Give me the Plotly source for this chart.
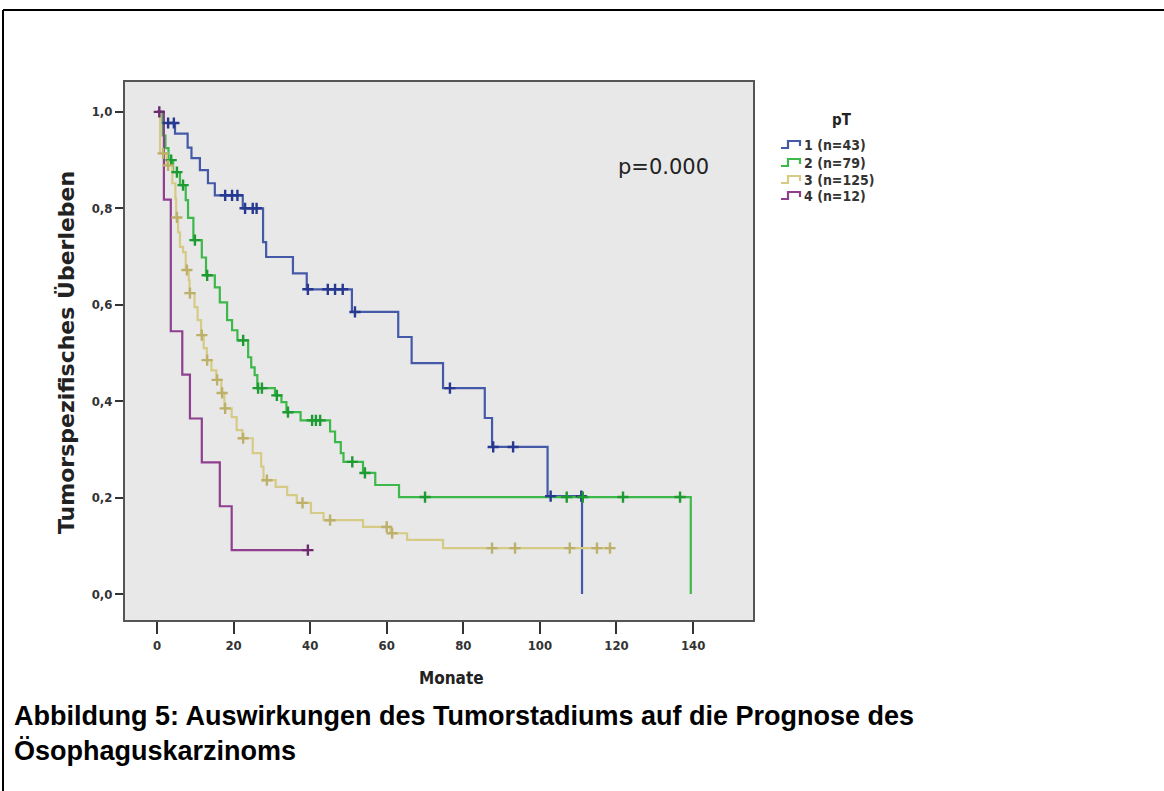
import plotly.graph_objects as go

# ---------------- data ----------------
x_ticks = [0, 20, 40, 60, 80, 100, 120, 140]
y_ticks = [0.0, 0.2, 0.4, 0.6, 0.8, 1.0]
y_tick_labels = ["0,0", "0,2", "0,4", "0,6", "0,8", "1,0"]

series_names = ["1 (n=43)", "2 (n=79)", "3 (n=125)", "4 (n=12)"]

pt1_times = [0, 1.5, 4.7, 8.0, 9.0, 11.2, 13.3, 15.1, 22.4, 27.7, 28.5, 35.5, 39.1,
             50.9, 63.0, 66.5, 74.7, 85.6, 87.5, 102.0, 111.0]
pt1_surv = [1.0, 0.977, 0.955, 0.926, 0.904, 0.879, 0.852, 0.827, 0.800, 0.730, 0.699,
            0.665, 0.632, 0.585, 0.533, 0.479, 0.427, 0.365, 0.305, 0.203, 0.0]
pt1_censor = [2.9, 4.4, 17.8, 19.6, 21.0, 23.0, 25.0, 26.0, 39.4, 44.6, 46.5, 48.5,
              51.7, 76.5, 87.8, 93.0, 102.8, 110.8]
pt1_end = 111.0

pt2_times = [0, 1.5, 2.2, 3.0, 4.2, 6.0, 7.5, 8.1, 9.5, 11.7, 12.8, 15.1, 16.4, 18.3,
             19.6, 21.0, 23.8, 24.6, 25.5, 26.2, 30.8, 32.5, 33.8, 37.5, 45.2, 46.5,
             48.0, 48.7, 53.8, 57.0, 63.2, 139.4]
pt2_surv = [1.0, 0.951, 0.925, 0.900, 0.875, 0.848, 0.817, 0.780, 0.734, 0.698, 0.661,
            0.636, 0.605, 0.568, 0.547, 0.526, 0.491, 0.470, 0.454, 0.427, 0.412, 0.398,
            0.377, 0.360, 0.337, 0.315, 0.292, 0.274, 0.251, 0.226, 0.201, 0.0]
pt2_censor = [3.7, 5.2, 6.8, 9.9, 13.1, 22.5, 26.4, 27.4, 31.3, 34.2, 40.5, 41.5, 42.6,
              51.0, 54.3, 70.0, 107.0, 111.2, 121.7, 136.6]
pt2_end = 139.4

pt3_times = [0, 0.8, 2.5, 4.0, 4.8, 5.0, 5.5, 6.0, 6.8, 7.5, 8.3, 8.5, 9.8, 10.6, 11.5,
             12.2, 13.0, 14.2, 15.5, 16.8, 17.6, 19.5, 20.8, 22.3, 25.0, 27.2, 27.8,
             31.0, 34.0, 36.5, 40.2, 43.5, 53.8, 61.0, 65.3, 74.7]
pt3_surv = [1.0, 0.914, 0.889, 0.852, 0.820, 0.781, 0.750, 0.720, 0.709, 0.672, 0.651,
            0.624, 0.595, 0.568, 0.537, 0.510, 0.485, 0.464, 0.444, 0.417, 0.385, 0.367,
            0.340, 0.323, 0.292, 0.264, 0.236, 0.222, 0.205, 0.189, 0.168, 0.153, 0.139,
            0.126, 0.112, 0.095]
pt3_censor = [1.6, 2.9, 5.2, 7.8, 8.6, 11.7, 13.1, 15.7, 17.0, 17.8, 22.5, 28.7, 38.0,
              45.2, 60.0, 61.4, 87.5, 93.5, 107.8, 114.9, 118.3]
pt3_end = 118.6

pt4_times = [0, 1.8, 3.6, 6.6, 8.6, 11.7, 16.4, 19.5]
pt4_surv = [1.0, 0.818, 0.545, 0.455, 0.364, 0.273, 0.182, 0.091]
pt4_censor = [0.6, 39.4]
pt4_end = 39.4

p_text = "p=0.000"
legend_title = "pT"
x_title = "Monate"
y_title = "Tumorspezifisches Überleben"
caption = "Abbildung 5: Auswirkungen des Tumorstadiums auf die Prognose des<br>Ösophaguskarzinoms"

# ---------------- styling ----------------
W, H = 1164, 791
PL, PR, PT, PB = 125, 753, 82, 620  # plot area in pixels
line_colors = ["#4459A8", "#3DB84A", "#D6CB86", "#8E3F8E"]
mark_colors = ["#26388F", "#1E9A32", "#BDB06A", "#6E2A70"]
XR = [-8.36, 155.65]
YR = [-0.054, 1.062]
COND = "DejaVu Sans Condensed, DejaVu Sans, Arial"
TICK_FONT = dict(family=COND, size=13, color="#333333", weight="bold")


def px_to_paper_x(px):
    return (px - PL) / (PR - PL)


def py_to_paper_y(py):
    return 1 - (py - PT) / (PB - PT)


def surv_at(times, surv, t):
    v = surv[0]
    for ti, si in zip(times, surv):
        if ti <= t:
            v = si
    return v


fig = go.Figure()

series = [
    (pt1_times, pt1_surv, pt1_censor, pt1_end),
    (pt2_times, pt2_surv, pt2_censor, pt2_end),
    (pt3_times, pt3_surv, pt3_censor, pt3_end),
    (pt4_times, pt4_surv, pt4_censor, pt4_end),
]

for i, (t, s, c, end) in enumerate(series):
    xs = list(t)
    ys = list(s)
    if xs[-1] < end:
        xs.append(end)
        ys.append(ys[-1])
    fig.add_trace(go.Scatter(
        x=xs, y=ys, mode="lines", line=dict(color=line_colors[i], width=2.2, shape="hv"),
        name=series_names[i], showlegend=False))

for i, (t, s, c, end) in enumerate(series):
    cy = [surv_at(t, s, ct) for ct in c]
    fig.add_trace(go.Scatter(
        x=c, y=cy, mode="markers", showlegend=False, name=series_names[i],
        marker=dict(symbol="cross-thin", size=8, line=dict(width=2.4, color=mark_colors[i]),
                    color=mark_colors[i]),
        hoverinfo="skip"))

# outer figure frame (left and top black border)
x_left = px_to_paper_x(3)
y_top = py_to_paper_y(10)
fig.add_shape(type="line", xref="paper", yref="paper", x0=x_left, x1=x_left,
              y0=py_to_paper_y(H + 5), y1=y_top, line=dict(color="black", width=2))
fig.add_shape(type="line", xref="paper", yref="paper", x0=x_left, x1=px_to_paper_x(W + 5),
              y0=y_top, y1=y_top, line=dict(color="black", width=2))

# legend drawn by hand (step glyph + label), SPSS style
fig.add_annotation(x=px_to_paper_x(842), y=py_to_paper_y(120), xref="paper", yref="paper",
                   xanchor="center", yanchor="middle", text=legend_title, showarrow=False,
                   font=dict(family=COND, size=15, color="#222222", weight="bold"))
leg_y = [145, 163, 180, 196]
gx0, gx1 = 781, 800
for i, name in enumerate(series_names):
    yc = leg_y[i]
    pts = [(gx0, yc + 3), (gx0 + 7, yc + 3), (gx0 + 7, yc - 4), (gx1, yc - 4), (gx1, yc + 1)]
    path = "M " + " L ".join(f"{px_to_paper_x(a):.5f},{py_to_paper_y(b):.5f}" for a, b in pts)
    fig.add_shape(type="path", xref="paper", yref="paper", path=path,
                  line=dict(color=line_colors[i], width=2.2))
    fig.add_annotation(x=px_to_paper_x(802), y=py_to_paper_y(yc), xref="paper", yref="paper",
                       xanchor="left", yanchor="middle", text=name, showarrow=False,
                       font=dict(family=COND, size=14, color="#333333", weight="bold"))

# p-value annotation
fig.add_annotation(x=px_to_paper_x(663), y=py_to_paper_y(167), xref="paper", yref="paper",
                   xanchor="center", yanchor="middle", text=p_text, showarrow=False,
                   font=dict(family="DejaVu Sans, Arial", size=21, color="#222222"))

# axis titles
fig.add_annotation(x=px_to_paper_x(451), y=py_to_paper_y(678), xref="paper", yref="paper",
                   xanchor="center", yanchor="middle", text=x_title, showarrow=False,
                   font=dict(family=COND, size=17, color="#222222", weight="bold"))
fig.add_annotation(x=px_to_paper_x(66), y=py_to_paper_y(353), xref="paper", yref="paper",
                   xanchor="center", yanchor="middle", text=y_title, showarrow=False,
                   textangle=-90,
                   font=dict(family="DejaVu Sans, Arial", size=22, color="#222222",
                             weight="bold"))

# caption
fig.add_annotation(x=px_to_paper_x(12), y=py_to_paper_y(699), xref="paper", yref="paper",
                   xanchor="left", yanchor="top", align="left",
                   text=caption, showarrow=False,
                   font=dict(family="Liberation Sans, Arial", size=27, color="black",
                             weight="bold"))

fig.update_layout(
    width=W, height=H,
    margin=dict(l=PL, r=W - PR, t=PT, b=H - PB, pad=0),
    paper_bgcolor="white",
    plot_bgcolor="#E8E8E8",
    showlegend=False,
    xaxis=dict(range=XR, tickvals=x_ticks, ticktext=[str(v) for v in x_ticks],
               showgrid=False, zeroline=False, showline=True, mirror=True,
               linecolor="#555555", linewidth=2, ticks="outside", ticklen=12,
               tickwidth=2, tickcolor="#333333", tickfont=TICK_FONT),
    yaxis=dict(range=YR, tickvals=y_ticks, ticktext=y_tick_labels,
               showgrid=False, zeroline=False, showline=True, mirror=True,
               linecolor="#555555", linewidth=2, ticks="outside", ticklen=8,
               tickwidth=2, tickcolor="#333333", tickfont=TICK_FONT),
)

fig.write_html("out.html")
